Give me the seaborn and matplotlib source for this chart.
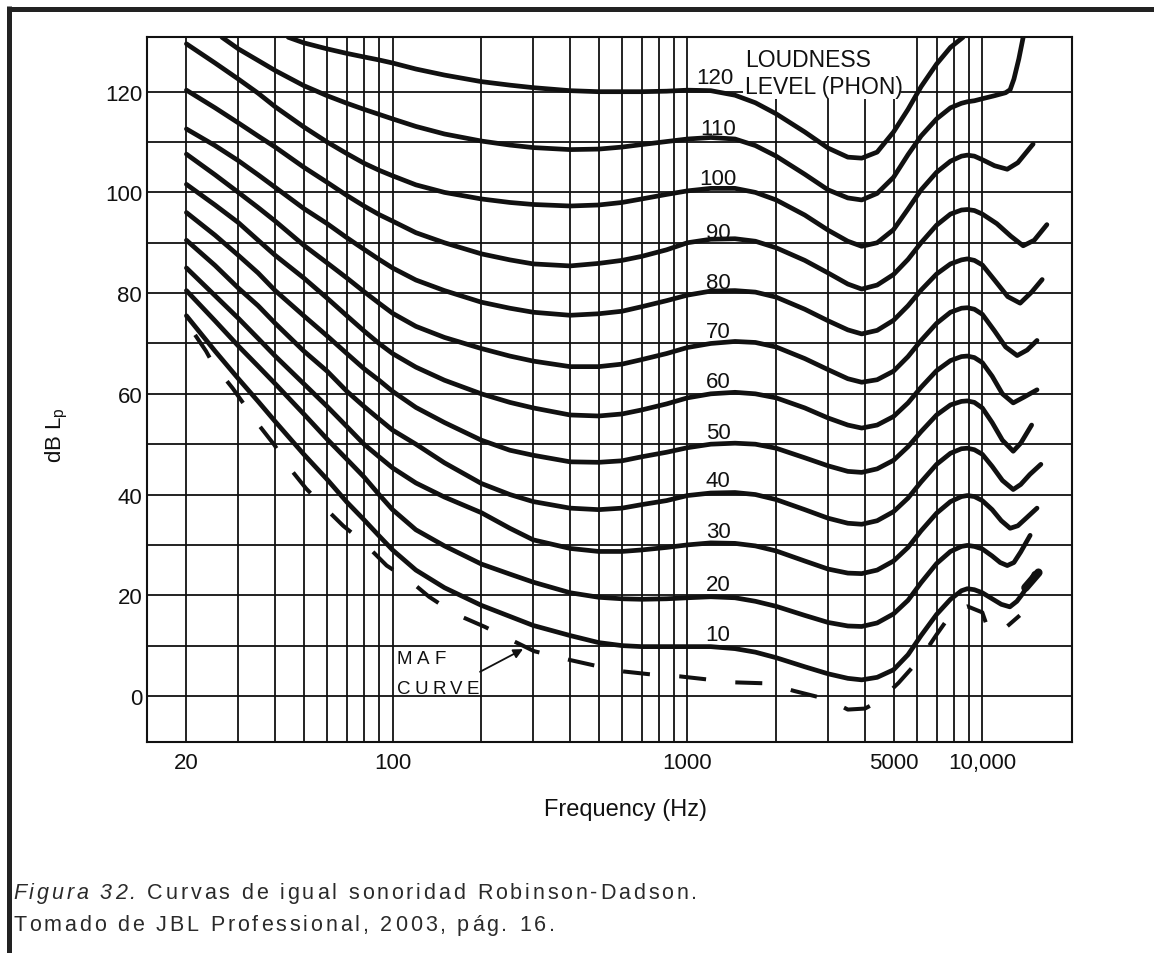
import numpy as np
import pandas as pd
import matplotlib
matplotlib.use("Agg")
import matplotlib.pyplot as plt
import seaborn as sns
from matplotlib.lines import Line2D
from matplotlib.patches import Rectangle
from matplotlib.ticker import NullLocator
from matplotlib import font_manager as fm

# ---------------- data ----------------
LOW = [20, 25, 30, 35, 40, 50, 60, 70, 80, 90, 100, 120, 150, 200, 250, 300,
       400, 500, 600, 700, 850]
MID = [1000, 1200, 1450, 1700, 2000, 2500, 3000, 3500, 3900, 4400, 5000, 5600,
       6200, 7000, 7800, 8500, 8900, 9400]

F_10 = LOW + MID + [10000, 10800, 11600, 12400, 13100, 13700, 14300, 15000]
L_10 = [75.5, 68.5, 63, 58.5, 54.5, 48, 43, 38.5, 35, 31.8, 29, 25, 21.5, 18, 15.8, 14,
        12, 10.6, 10, 9.8, 9.8,
        9.8, 9.8, 9.4, 8.7, 7.6, 5.8, 4.4, 3.5, 3.2, 3.7, 5.2, 8.2,
        12, 16.2, 19.2, 20.9, 21.3, 21.1,
        20.5, 19.3, 18.2, 17.7, 18.8, 20.3, 22, 24.3]

F_20 = LOW + MID + [10000, 10800, 11500, 12150, 12800, 13500, 14530]
L_20 = [80.5, 74.5, 69.5, 65.5, 62, 56, 51, 47, 43.5, 40, 37, 33, 29.8, 26.2, 24.2, 22.6,
        20.5, 19.6, 19.3, 19.2, 19.3,
        19.5, 19.7, 19.5, 18.8, 17.8, 16, 14.6, 13.9, 13.8, 14.5, 16.3, 19,
        22.5, 26.3, 28.7, 29.7, 29.9, 29.7,
        29.2, 27.8, 26.5, 25.9, 26.5, 28.6, 31.9]

F_30 = LOW + MID + [10000, 10800, 11600, 12430, 13200, 14200, 15330]
L_30 = [85, 79.5, 75, 71, 67.5, 62, 57.5, 53.5, 50, 47.5, 45.3, 42.3, 39.5, 36.4, 33.3, 31,
        29.3, 28.7, 28.7, 29, 29.5,
        30, 30.4, 30.3, 29.8, 28.8, 26.8, 25.2, 24.4, 24.3, 25, 26.8, 29.5,
        32.8, 36.3, 38.6, 39.6, 39.8, 39.6,
        38.8, 37, 34.8, 33.3, 33.8, 35.5, 37.3]

F_40 = LOW + MID + [10000, 10800, 11700, 12730, 13500, 14500, 15800]
L_40 = [90.5, 85.5, 81, 77.5, 74, 68.5, 64.5, 60.5, 57.5, 55, 52.8, 50, 46.3, 42.2, 40, 38.6,
        37.3, 37, 37.3, 38, 38.8,
        39.8, 40.3, 40.4, 40, 39, 37, 35.3, 34.3, 34.1, 34.8, 36.6, 39.3,
        42.5, 46, 48.2, 49.1, 49.2, 48.9,
        48, 45.6, 42.8, 41, 42, 44, 46]

F_50 = LOW + MID + [10000, 10800, 11700, 12730, 13500, 14700]
L_50 = [96, 91.5, 87.5, 84, 80.5, 75.5, 71.5, 68, 65, 62.7, 60.5, 57.3, 54.3, 50.8, 48.8, 47.8,
        46.5, 46.4, 46.7, 47.5, 48.4,
        49.3, 50, 50.2, 50, 49.2, 47.3, 45.7, 44.6, 44.4, 45.1, 46.8, 49.5,
        52.5, 55.8, 57.8, 58.5, 58.6, 58.3,
        57.2, 54.3, 50.8, 48.6, 50.2, 53.8]

F_60 = LOW + MID + [10000, 10800, 11700, 12730, 13800, 15330]
L_60 = [101.6, 97.5, 94, 90.5, 87.5, 83, 79, 75.5, 72.5, 70, 68, 65.3, 62.7, 60, 58.3, 57.2,
        55.8, 55.6, 56, 56.8, 58,
        59.2, 60, 60.3, 60, 59.2, 57.2, 55.2, 53.8, 53.2, 53.8, 55.5, 58.2,
        61.3, 64.6, 66.6, 67.4, 67.5, 67.2,
        66.2, 63.5, 60, 58.2, 59.3, 60.8]

F_70 = LOW + MID + [10000, 11000, 12000, 13130, 14200, 15330]
L_70 = [107.6, 103.5, 100, 97, 94.3, 89.5, 86, 83, 80.3, 78, 76, 73.4, 71.2, 69, 67.5, 66.5,
        65.4, 65.4, 65.9, 66.8, 68,
        69.2, 70, 70.4, 70.2, 69.3, 67, 64.8, 63, 62.3, 62.8, 64.5, 67.4,
        70.6, 74, 76.2, 77, 77.1, 76.8,
        75.8, 72.5, 69.3, 67.6, 68.7, 70.6]

F_80 = LOW + MID + [10000, 11000, 12200, 13440, 14700, 15960]
L_80 = [112.6, 109.3, 106.3, 103.5, 101, 96.8, 93.8, 91, 88.7, 86.7, 85, 82.6, 80.5, 78.2, 77, 76.2,
        75.6, 75.9, 76.4, 77.3, 78.5,
        79.6, 80.4, 80.5, 80.2, 79.2, 76.8, 74.5, 72.7, 71.9, 72.6, 74.6, 77.5,
        80.6, 83.8, 85.8, 86.6, 86.8, 86.5,
        85.6, 82.6, 79.3, 78, 80.2, 82.7]

F_90 = LOW + MID + [10000, 11200, 12500, 13760, 15000, 16560]
L_90 = [120.3, 116.8, 113.8, 111.2, 109, 105, 102, 99.4, 97.3, 95.6, 94.3, 92, 90, 87.8, 86.6, 85.8,
        85.4, 85.9, 86.5, 87.3, 88.6,
        90, 90.7, 90.8, 90.3, 89, 86.5, 84, 81.8, 80.8, 81.6, 83.7, 86.7,
        90, 93.5, 95.7, 96.5, 96.6, 96.4,
        95.7, 93.8, 91.3, 89.4, 90.5, 93.6]

F_100 = LOW + MID + [10000, 11000, 12150, 13200, 14870]
L_100 = [129.5, 125.7, 122.5, 119.7, 117, 113, 110, 107.7, 105.8, 104.4, 103.3, 101.5, 100, 98.7, 98, 97.6,
         97.3, 97.5, 98, 98.7, 99.6,
         100.3, 100.8, 100.8, 100, 98.5, 95.5, 92.5, 90.3, 89.3, 90, 92.6, 96.7,
         100.5, 104, 106.2, 107.2, 107.4, 107.2,
         106.5, 105.3, 104.6, 105.9, 109.6]

F_110 = [26.4, 30, 35, 40, 50, 60, 70, 80, 90, 100, 120, 150, 200, 250, 300, 400, 500,
         600, 700, 850] + MID + [10000, 11000, 12000, 12430, 12800, 13300, 13760]
L_110 = [130.8, 128.5, 126.2, 124.2, 121.2, 119.2, 117.7, 116.5, 115.5, 114.6, 113.1, 111.6,
         110.2, 109.4, 108.9, 108.5, 108.6, 109, 109.5, 110.1,
         110.6, 110.9, 110.6, 109.3, 107.2, 103.6, 100.5, 98.9, 98.5, 99.8, 103, 107.5,
         111.2, 114.6, 116.8, 117.7, 118, 118.2,
         118.6, 119.2, 119.8, 120.4, 122.5, 126.5, 130.8]

F_120 = [44.3, 50, 60, 70, 80, 90, 100, 120, 150, 200, 250, 300, 400, 500, 600, 700, 850,
         1000, 1200, 1450, 1700, 2000, 2500, 3000, 3500, 3900, 4400, 5000, 5600, 6200,
         7000, 7800, 8600]
L_120 = [130.8, 129.7, 128.5, 127.6, 126.9, 126.3, 125.7, 124.5, 123.3, 122, 121.3, 120.8,
         120.2, 120, 120, 120, 120.1,
         120.3, 120.2, 119.3, 117.8, 115.6, 112, 108.8, 107, 106.8, 108, 112, 116.5, 121,
         125.5, 128.8, 130.8]

MAF_F = [21.4, 23.3, 24.6, 28.7, 35.2, 39.8, 44.3, 50.9, 58.4, 68, 79.4, 95.5, 115, 133,
         163, 206, 249, 302, 389, 497, 600, 747, 940, 1160, 1450, 1870, 2300, 3000, 3500,
         4000, 4500, 5200, 6200, 7000, 8000, 8900, 10000, 10500, 11700, 13400]
MAF_L = [71.7, 68.5, 66, 61.1, 53.8, 49.8, 45.6, 41.2, 37.6, 33.8, 30.6, 25.9, 22.8, 19.7,
         16.3, 13.7, 11.3, 8.9, 7.3, 5.9, 4.9, 4.3, 3.9, 3.3, 2.7, 2.5, 1, -0.7, -2.7,
         -2.5, -0.9, 2.6, 7.6, 12.2, 17, 17.8, 16.6, 13, 13, 16]
MAF_END_F = [14000, 15500]
MAF_END_L = [21.5, 24.5]

CURVES = [(F_10, L_10), (F_20, L_20), (F_30, L_30), (F_40, L_40), (F_50, L_50),
          (F_60, L_60), (F_70, L_70), (F_80, L_80), (F_90, L_90), (F_100, L_100),
          (F_110, L_110), (F_120, L_120)]
PHON = [10, 20, 30, 40, 50, 60, 70, 80, 90, 100, 110, 120]

GRID_F = [20, 30, 40, 50, 60, 70, 80, 90,
          100, 200, 300, 400, 500, 600, 700, 800, 900,
          1000, 2000, 3000, 4000, 5000, 6000, 7000, 8000, 9000, 10000]
GRID_DB = [0, 10, 20, 30, 40, 50, 60, 70, 80, 90, 100, 110, 120]

X_TICKS = [20, 100, 1000, 5000, 10000]
X_TICK_LABELS = ["20", "100", "1000", "5000", "10,000"]
Y_TICKS = [0, 20, 40, 60, 80, 100, 120]
Y_TICK_LABELS = ["0", "20", "40", "60", "80", "100", "120"]

CAPTION_1 = [("Figura 32.", "italic"), (" Curvas de igual sonoridad Robinson-Dadson.", "normal")]
CAPTION_2 = [("Tomado de JBL Professional, 2003, pág. 16.", "normal")]

# label positions (layout)
PHON_LABEL_X = [1270] * 11 + [1240]
PHON_LABEL_Y = [12.3, 22.2, 32.7, 42.7, 52.4, 62.4, 72.3, 82.2, 92.1, 102.7, 112.6, 122.9]

# ---------------- style ----------------
sns.set_theme(style="white")
names = {f.name for f in fm.fontManager.ttflist}
SANS = "Liberation Sans" if "Liberation Sans" in names else "DejaVu Sans"
plt.rcParams["font.family"] = [SANS, "DejaVu Sans"]
plt.rcParams["mathtext.fontset"] = "custom"
plt.rcParams["mathtext.rm"] = SANS

W, H = 1154, 954
fig = plt.figure(figsize=(W / 100, H / 100), dpi=100)
fig.patch.set_facecolor("white")
renderer = fig.canvas.get_renderer()


def tracked_line(x0_px, y_px, segments, gap_px, fontsize, x1_px=None, **kw):
    """Letter-spaced text (figure pixel coords, baseline at y_px).
    If x1_px is given the gap is chosen so the line ends there. Returns gap."""
    items = []
    for s, st in segments:
        for ch in s:
            t = fig.text(0, 1 - y_px / H, ch, ha="left", va="baseline",
                         style=st, fontsize=fontsize, **kw)
            if ch == " ":
                w = fontsize * 100 / 72 * 0.278
            else:
                w = t.get_window_extent(renderer=renderer).width
            items.append((t, w))
    if x1_px is not None:
        gap_px = (x1_px - x0_px - sum(w for _, w in items)) / (len(items) - 1)
    x = x0_px
    for t, w in items:
        t.set_x(x / W)
        x += w + gap_px
    return gap_px


L_PX, R_PX, T_PX, B_PX = 147, 1071.7, 38.3, 743.3
ax = fig.add_axes([L_PX / W, (H - B_PX) / H, (R_PX - L_PX) / W, (B_PX - T_PX) / H])
ax.set_facecolor("white")
ax.set_xscale("log")
XMIN, XMAX, YMIN, YMAX = 14.7, 20100, -9.2, 130.8
ax.set_xlim(XMIN, XMAX)
ax.set_ylim(YMIN, YMAX)

INK = "#111111"
ax.vlines(GRID_F, YMIN, YMAX, color=INK, lw=1.3, zorder=1)
ax.hlines(GRID_DB, XMIN, XMAX, color=INK, lw=1.3, zorder=1)

# white box behind "LOUDNESS LEVEL (PHON)"
ax.add_patch(Rectangle((1540, 118.6), 5300 - 1540, YMAX - 118.6,
                       facecolor="white", edgecolor="none", zorder=2))

for f, l in CURVES:
    sns.lineplot(x=f, y=l, ax=ax, color=INK, linewidth=3.4, zorder=4,
                 solid_capstyle="round", solid_joinstyle="round")

sns.lineplot(x=MAF_F, y=MAF_L, ax=ax, color=INK, linewidth=2.9, zorder=4)
ax.lines[-1].set_linestyle((0, (6.7, 7.3)))
ax.lines[-1].set_dash_capstyle("butt")
sns.lineplot(x=MAF_END_F, y=MAF_END_L, ax=ax, color=INK, linewidth=6, zorder=4)

for spine in ax.spines.values():
    spine.set_visible(True)
    spine.set_color(INK)
    spine.set_linewidth(1.5)

ax.set_xticks(X_TICKS)
ax.set_xticklabels(X_TICK_LABELS)
ax.xaxis.set_minor_locator(NullLocator())
ax.set_yticks(Y_TICKS)
ax.set_yticklabels(Y_TICK_LABELS)
ax.tick_params(axis="both", length=0, labelsize=16, colors=INK)
ax.tick_params(axis="x", pad=7)
ax.tick_params(axis="y", pad=3.5)
ax.set_xlabel("")
ax.set_ylabel("")
ax.grid(False)

for x, y, p in zip(PHON_LABEL_X, PHON_LABEL_Y, PHON):
    ax.text(x, y, str(p), ha="center", va="center", fontsize=16, color=INK, zorder=5)

ax.text(1570, 123.7, "LOUDNESS\nLEVEL (PHON)", ha="left", va="center",
        fontsize=16.5, linespacing=1.25, color=INK, zorder=5)

tracked_line(396, 664, [("MAF", "normal")], 5, 13.5, color=INK)
tracked_line(397, 694, [("CURVE", "normal")], 4, 13.5, color=INK)
ax.annotate("", xy=(277, 9.3), xytext=(198, 4.8),
            arrowprops=dict(arrowstyle="-|>", color=INK, lw=1.3, mutation_scale=14,
                            shrinkA=0, shrinkB=0), zorder=5)

fig.text(625 / W, 1 - 810 / H, "Frequency (Hz)", ha="center", va="center",
         fontsize=17, color=INK)
fig.text(57 / W, 1 - 435 / H, r"dB L$_\mathregular{p}$", ha="center", va="center",
         rotation=90, fontsize=16, color=INK)

# figure frame (left and top)
fig.add_artist(Line2D([9 / W, 9 / W], [0, 1 - 7 / H], transform=fig.transFigure,
                      color="#222222", lw=3.6, solid_capstyle="butt"))
fig.add_artist(Line2D([7 / W, 1], [1 - 9.5 / H, 1 - 9.5 / H], transform=fig.transFigure,
                      color="#222222", lw=3.6, solid_capstyle="butt"))

# caption (letter-spaced, as in the source document)
CAP = "#2a2a2a"
gap = tracked_line(13, 899, CAPTION_1, 0, 15.5, x1_px=697, color=CAP)
tracked_line(13, 931, CAPTION_2, gap, 15.5, color=CAP)

fig.savefig("out.png", dpi=100, facecolor="white")
